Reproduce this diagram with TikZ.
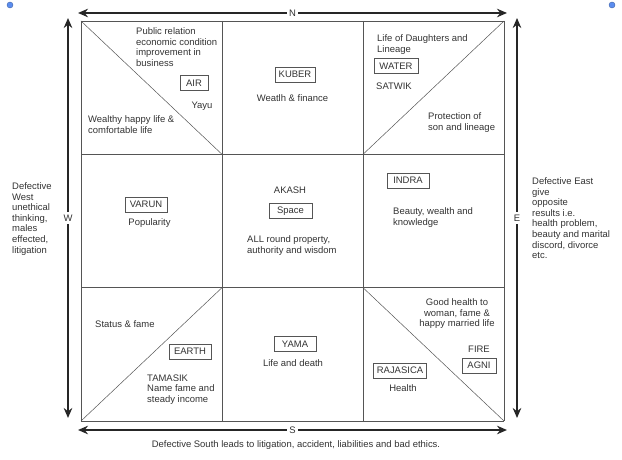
\documentclass[tikz,border=0pt]{standalone}
\usepackage{fontspec}
\setmainfont{Liberation Sans}
\usetikzlibrary{arrows.meta}
\definecolor{inkgray}{HTML}{333333}
\definecolor{gridgray}{HTML}{555555}
\definecolor{dotblue}{HTML}{5B8DEF}
\begin{document}
\begin{tikzpicture}[x=1bp, y=-1bp,
		txt/.style={text=inkgray, font=\fontsize{9.5}{10.65}\selectfont, inner sep=0pt},
		tag/.style={txt, draw=gridgray, line width=0.8bp, inner xsep=3bp, minimum width=42bp, minimum height=15bp},
		dirarrow/.style={{Stealth[length=10bp,width=8.5bp]}-{Stealth[length=10bp,width=8.5bp]}, line width=2.6bp, draw=black!85},
		dirlabel/.style={txt, fill=white, inner sep=2.5bp}]
	\useasboundingbox (0,0) rectangle (622,460);
	% corner handles
	\fill[dotblue, draw=dotblue!70!black, line width=0.4bp] (10,5) circle (3);
	\fill[dotblue, draw=dotblue!70!black, line width=0.4bp] (612,5) circle (3);
	% grid
	\foreach \i in {0,...,3}{
		\draw[gridgray, line width=0.9bp] (81+141*\i,21) -- (81+141*\i,421);
		\draw[gridgray, line width=0.9bp] (81,21+133.33*\i) -- (504,21+133.33*\i);
	}
	% diagonals
	\draw[gridgray, line width=0.5bp] (81,21) -- (222,154.33);
	\draw[gridgray, line width=0.5bp] (363,154.33) -- (504,21);
	\draw[gridgray, line width=0.5bp] (81,421) -- (222,287.67);
	\draw[gridgray, line width=0.5bp] (363,287.67) -- (504,421);
	% directions
	\coordinate (ntl) at (78,13);
	\coordinate (ntr) at (507,13);
	\coordinate (stl) at (78,430);
	\coordinate (str) at (507,430);
	\coordinate (wtop) at (68,18);
	\coordinate (wbot) at (68,418);
	\coordinate (etop) at (517,18);
	\coordinate (ebot) at (517,418);
	\draw[dirarrow] (ntl) -- node[dirlabel] (north) {N} (ntr);
	\draw[dirarrow] (stl) -- node[dirlabel] (south) {S} (str);
	\draw[dirarrow] (wtop) -- node[dirlabel] (west) {W} (wbot);
	\draw[dirarrow] (etop) -- node[dirlabel] (east) {E} (ebot);
	% north west : air
	\node[txt, anchor=north west, align=left] (airtop) at (136,27.5) {Public relation\\economic condition\\improvement in\\business};
	\node[tag, minimum width=28bp] (air) at (194,83) {AIR};
	\node[txt] (yayu) at (202,106) {Yayu};
	\node[txt, anchor=north west, align=left] (airlow) at (88,115.5) {Wealthy happy life \&\\comfortable life};
	% north : kuber
	\node[tag, minimum width=40bp] (kuber) at (295,74.5) {KUBER};
	\node[txt] (kubertxt) at (292.5,98) {Weatlh \& finance};
	% north east : water
	\node[txt, anchor=north west, align=left] (watertop) at (377,34.5) {Life of Daughters and\\Lineage};
	\node[tag, minimum width=44bp] (water) at (396,66) {WATER};
	\node[txt, anchor=west] (satwik) at (376,86) {SATWIK};
	\node[txt, anchor=north west, align=left] (waterlow) at (428,112.5) {Protection of\\son and lineage};
	% west : varun
	\node[tag] (varun) at (146,204.5) {VARUN};
	\node[txt] (varuntxt) at (149.5,223) {Popularity};
	% centre : akash
	\node[txt] (akash) at (290,190) {AKASH};
	\node[tag, minimum width=43bp] (space) at (290.5,211) {Space};
	\node[txt, anchor=north west, align=left] (akashtxt) at (247,235.5) {ALL round property,\\authority and wisdom};
	% east : indra
	\node[tag] (indra) at (408,180.5) {INDRA};
	\node[txt, anchor=north west, align=left] (indratxt) at (393,207.5) {Beauty, wealth and\\knowledge};
	% south west : earth
	\node[txt, anchor=west] (earthtop) at (95,324) {Status \& fame};
	\node[tag] (earth) at (190,351.5) {EARTH};
	\node[txt, anchor=north west, align=left] (earthlow) at (147,374.5) {TAMASIK\\Name fame and\\steady income};
	% south : yama
	\node[tag] (yama) at (295,344) {YAMA};
	\node[txt] (yamatxt) at (293,363) {Life and death};
	% south east : fire
	\node[txt, anchor=north, align=center] (firetop) at (457,298.5) {Good health to\\woman, fame \&\\happy married life};
	\node[txt] (fire) at (479,349) {FIRE};
	\node[tag, minimum width=34bp] (agni) at (479,365.5) {AGNI};
	\node[tag, minimum width=52bp] (rajasica) at (400,370.5) {RAJASICA};
	\node[txt] (health) at (403,388) {Health};
	% defects
	\node[txt, anchor=north west, align=left] (westdef) at (12,182.5) {Defective\\West\\unethical\\thinking,\\males\\effected,\\litigation};
	\node[txt, anchor=north west, align=left] (eastdef) at (532,177.5) {Defective East\\give\\opposite\\results i.e.\\health problem,\\beauty and marital\\discord, divorce\\etc.};
	\node[txt] (southdef) at (296,445) {Defective South leads to litigation, accident, liabilities and bad ethics.};
\end{tikzpicture}
\end{document}
